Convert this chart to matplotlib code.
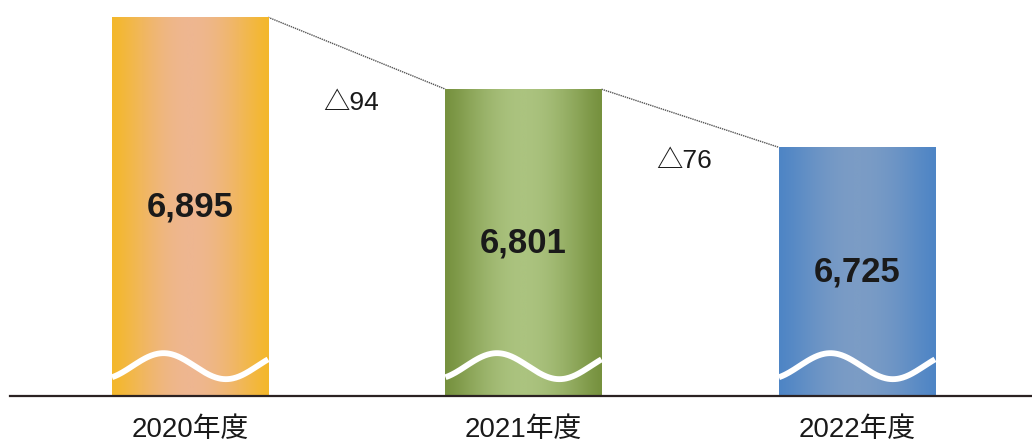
import matplotlib
matplotlib.use("Agg")
import matplotlib.pyplot as plt
import numpy as np
from matplotlib.colors import LinearSegmentedColormap

years = ["2020年度", "2021年度", "2022年度"]
values = [6895, 6801, 6725]
deltas = ["△94", "△76"]
edge_colors = ["#F4B82A", "#76913E", "#4E85C6"]
mid_colors = ["#EEB690", "#ABC37F", "#7B9CC5"]

plt.rcParams['font.family'] = ['Liberation Sans', 'Noto Sans CJK JP', 'DejaVu Sans']

fig = plt.figure(figsize=(10.32, 4.44), dpi=100)
ax = fig.add_axes([0, 48 / 444, 1, 396 / 444])

y0 = 6400
ax.set_xlim(-0.570, 2.525)
ax.set_ylim(y0, y0 + 396 * 1.307)

w = 0.468
x = np.arange(len(values))

# gradient bars: dark edges, light middle
t = np.linspace(0, 1, 256)
prof = np.sin(np.pi * t) ** 1.2
for i, v in enumerate(values):
    cmap = LinearSegmentedColormap.from_list("g%d" % i, [edge_colors[i], mid_colors[i]])
    ax.imshow(prof[None, :], cmap=cmap, vmin=0, vmax=1, aspect='auto',
              extent=(x[i] - w / 2, x[i] + w / 2, y0, v), zorder=2, interpolation='bilinear')
    # axis-break wave
    xs = np.linspace(x[i] - w / 2, x[i] + w / 2, 200)
    ph = (xs - (x[i] - w / 2)) / w
    ys = y0 + 39 - 17 * np.cos(2 * np.pi * (ph + 0.07) / 0.8)
    ax.plot(xs, ys, color='white', lw=4.2, zorder=3, solid_capstyle='butt')
    ax.text(x[i], (v + y0) / 2, "{:,}".format(v), ha='center', va='center',
            fontsize=25, fontweight='bold', color='#1a1a1a', zorder=4)

# connectors and decrease labels
for i in range(len(values) - 1):
    ax.plot([x[i] + w / 2, x[i + 1] - w / 2], [values[i], values[i + 1]],
            color='#555555', lw=1, linestyle=(0, (1, 0.6)), zorder=1)
    ax.text(x[i] + 0.483, values[i + 1] - 18, deltas[i], ha='center', va='center',
            fontsize=19, color='#1a1a1a',
            family=['Liberation Sans', 'Noto Sans CJK JP'])

ax.axhline(y0, xmin=10 / 1032, xmax=1, color='#2b2222', lw=1.6, zorder=5, clip_on=False)

ax.set_xticks(x)
ax.set_xticklabels(years, fontsize=20, color='#1a1a1a')
ax.tick_params(axis='x', length=0, pad=15)
ax.set_yticks([])
for s in ax.spines.values():
    s.set_visible(False)
ax.patch.set_alpha(0)

fig.savefig("out.png", dpi=100)
